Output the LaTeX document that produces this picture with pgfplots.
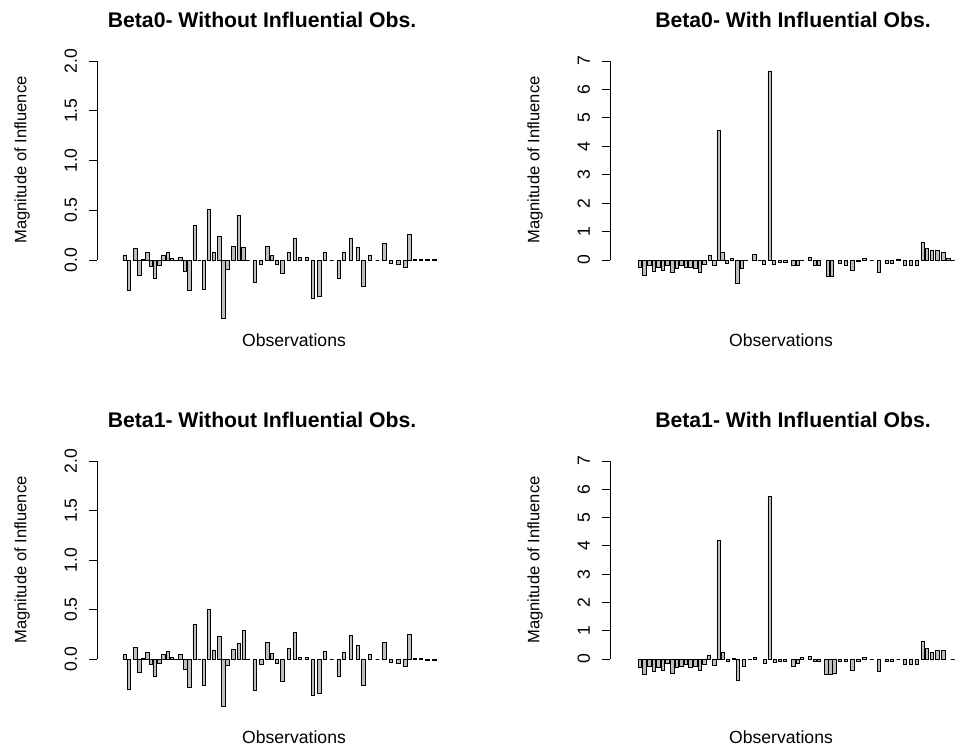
\documentclass[border=0pt]{standalone}
\usepackage{fontspec}
\setmainfont{Liberation Sans}
\usepackage{pgfplots}
\usepackage{pgfplotstable}
\pgfplotsset{compat=1.18}
\definecolor{barfill}{HTML}{BEBEBE}

% Influence of each observation: bar position along the axis, value
\pgfplotstableread{
pos v
27.7 0.05
31.7 -0.31
38.3 0.12
42.3 -0.15
46.3 0.01
50.3 0.08
54.0 -0.06
57.7 -0.18
62.3 -0.05
66.3 0.05
71.0 0.08
75.0 0.02
79.0 0.00
83.3 0.03
88.0 -0.11
92.3 -0.31
97.7 0.35
102.3 0.00
107.0 -0.30
111.7 0.51
117.0 0.08
122.3 0.24
126.3 -0.59
130.3 -0.09
136.3 0.14
141.7 0.45
146.3 0.13
150.7 0.00
157.7 -0.22
164.0 -0.04
170.3 0.14
175.0 0.05
180.0 -0.04
185.5 -0.13
192.0 0.08
197.7 0.22
203.0 0.03
210.0 0.03
215.7 -0.39
222.3 -0.37
227.7 0.08
234.7 0.00
241.7 -0.18
247.0 0.08
254.0 0.22
261.0 0.13
266.3 -0.27
273.0 0.05
280.3 0.00
287.3 0.17
294.0 -0.03
301.3 -0.04
308.3 -0.07
312.3 0.26
317.7 0.01
324.0 0.01
330.3 0.01
337.3 0.01
}\betaZeroWithout

\pgfplotstableread{
pos v
27.7 0.05
31.7 -0.31
38.3 0.12
42.3 -0.14
46.3 0.01
50.3 0.07
54.0 -0.05
57.7 -0.18
62.3 -0.04
66.3 0.05
71.0 0.08
75.0 0.02
79.0 0.00
83.3 0.05
88.3 -0.10
92.3 -0.29
97.7 0.35
102.3 0.00
107.0 -0.27
111.7 0.50
117.0 0.09
122.3 0.23
126.3 -0.48
130.3 -0.06
136.3 0.10
141.7 0.16
147.0 0.29
151.0 0.00
157.7 -0.32
164.3 -0.05
170.3 0.17
175.0 0.06
180.0 -0.04
185.5 -0.23
192.0 0.11
197.7 0.27
203.0 0.02
210.0 0.02
215.7 -0.37
222.3 -0.35
227.7 0.08
234.7 0.00
241.7 -0.18
247.0 0.07
254.0 0.24
261.0 0.14
266.3 -0.27
273.0 0.05
280.3 0.00
287.3 0.17
294.0 -0.03
301.3 -0.04
308.3 -0.07
312.3 0.25
317.7 0.01
324.0 0.01
330.3 -0.01
337.3 -0.01
}\betaOneWithout

\pgfplotstableread{
pos v
30.0 -0.25
34.6 -0.55
39.2 -0.20
43.8 -0.40
48.4 -0.25
53.0 -0.35
57.6 -0.20
62.2 -0.45
66.8 -0.30
71.4 -0.20
76.0 -0.25
80.6 -0.25
85.2 -0.30
89.8 -0.45
94.4 -0.15
100.0 0.15
104.3 -0.18
108.7 4.55
112.3 0.27
117.0 -0.12
122.0 0.05
127.3 -0.82
132.0 -0.29
135.3 -0.03
144.3 0.20
149.7 0.00
154.0 -0.15
159.7 6.65
164.0 -0.15
170.0 -0.08
175.3 -0.08
183.3 -0.18
187.7 -0.18
191.7 -0.02
200.0 0.10
205.0 -0.18
209.0 -0.18
218.0 -0.58
222.0 -0.58
230.0 -0.12
235.7 -0.18
242.3 -0.38
248.3 -0.05
254.3 0.05
261.7 0.00
269.0 -0.45
276.7 -0.12
281.7 -0.12
288.3 0.02
295.0 -0.20
300.7 -0.20
306.7 -0.20
312.7 0.61
316.7 0.41
321.7 0.33
327.3 0.33
333.3 0.26
338.3 0.05
342.7 0.00
}\betaZeroWith

\pgfplotstableread{
pos v
30.0 -0.30
34.6 -0.55
39.2 -0.25
43.8 -0.45
48.4 -0.30
53.0 -0.40
57.6 -0.15
62.2 -0.50
66.8 -0.30
71.4 -0.25
76.0 -0.20
80.6 -0.30
85.2 -0.25
89.8 -0.40
94.4 -0.20
98.7 0.12
104.3 -0.22
108.7 4.20
113.0 0.25
118.0 -0.10
124.0 0.02
128.0 -0.74
134.0 -0.25
140.0 0.00
145.0 0.05
155.0 -0.15
159.7 5.75
165.0 -0.12
170.0 -0.10
175.0 -0.10
183.3 -0.25
187.7 -0.15
192.0 0.05
200.0 0.08
205.0 -0.10
209.0 -0.10
216.5 -0.55
220.5 -0.55
224.5 -0.50
230.0 -0.10
236.0 -0.10
242.3 -0.40
248.3 -0.10
254.3 0.05
261.7 0.00
269.0 -0.45
276.7 -0.10
281.7 -0.10
288.3 0.00
295.0 -0.20
300.7 -0.20
306.7 -0.20
312.7 0.64
316.7 0.37
321.7 0.22
327.3 0.30
333.3 0.30
342.7 0.00
}\betaOneWith

\pgfplotsset{
  infl/.style={
    scale only axis,
    width=268.5pt,
    xmin=0, xmax=358,
    axis x line=none,
    axis y line*=left,
    y axis line style={draw=none},
    tick align=outside,
    major tick length=6pt,
    ytick style={black, line width=0.6pt},
    yticklabel shift=5.5pt,
    yticklabel style={rotate=90, anchor=south, font=\fontsize{13.2}{15}\selectfont},
    /pgf/number format/assume math mode=true,
    clip=false,
    ybar, bar width=3.6,
  },
  lowscale/.style={
    ymin=-0.7, ymax=2,
    ytick={0,0.5,...,2},
    yticklabel style={/pgf/number format/.cd, fixed, fixed zerofill, precision=1},
  },
  highscale/.style={
    ymin=-2.5, ymax=7,
    ytick={0,1,...,7},
  },
  bars/.style={fill=barfill, draw=black, line width=0.6pt},
}

\begin{document}
\begin{tikzpicture}
\path[use as bounding box] (0,0) rectangle (735pt,-563.25pt);

% Beta0, without influential observations
\begin{axis}[infl, lowscale, at={(72.75pt,-247.24pt)}, anchor=south west, height=201.49pt]
  \addplot[bars] table[x=pos, y=v] {\betaZeroWithout};
  \draw[line width=0.6pt] (axis cs:0,0) -- (axis cs:0,2);
\end{axis}

% Beta0, with influential observations
\begin{axis}[infl, highscale, at={(457.5pt,-248.30pt)}, anchor=south west, height=202.55pt]
  \addplot[bars] table[x=pos, y=v] {\betaZeroWith};
  \draw[line width=0.6pt] (axis cs:0,0) -- (axis cs:0,7);
\end{axis}

% Beta1, without influential observations
\begin{axis}[infl, lowscale, at={(72.75pt,-546.23pt)}, anchor=south west, height=200.48pt]
  \addplot[bars] table[x=pos, y=v] {\betaOneWithout};
  \draw[line width=0.6pt] (axis cs:0,0) -- (axis cs:0,2);
\end{axis}

% Beta1, with influential observations
\begin{axis}[infl, highscale, at={(457.5pt,-547.28pt)}, anchor=south west, height=201.53pt]
  \addplot[bars] table[x=pos, y=v] {\betaOneWith};
  \draw[line width=0.6pt] (axis cs:0,0) -- (axis cs:0,7);
\end{axis}

% titles and axis labels
\begin{scope}[every node/.style={inner sep=0pt}]
\node[font=\bfseries\fontsize{15.9}{18}\selectfont] at (196.5pt,-15pt) {Beta0- Without Influential Obs.};
\node[font=\bfseries\fontsize{15.9}{18}\selectfont] at (594.75pt,-15pt) {Beta0- With Influential Obs.};
\node[font=\bfseries\fontsize{15.9}{18}\selectfont] at (196.5pt,-315pt) {Beta1- Without Influential Obs.};
\node[font=\bfseries\fontsize{15.9}{18}\selectfont] at (594.75pt,-315pt) {Beta1- With Influential Obs.};
\node[font=\fontsize{13.2}{15}\selectfont] at (220.5pt,-255pt) {Observations};
\node[font=\fontsize{13.2}{15}\selectfont] at (585.75pt,-255pt) {Observations};
\node[font=\fontsize{13.2}{15}\selectfont] at (220.5pt,-552.75pt) {Observations};
\node[font=\fontsize{13.2}{15}\selectfont] at (585.75pt,-552.75pt) {Observations};
\node[rotate=90, font=\fontsize{12.4}{14}\selectfont] at (16.5pt,-120pt) {Magnitude of Influence};
\node[rotate=90, font=\fontsize{12.4}{14}\selectfont] at (401.25pt,-120pt) {Magnitude of Influence};
\node[rotate=90, font=\fontsize{12.4}{14}\selectfont] at (16.5pt,-420pt) {Magnitude of Influence};
\node[rotate=90, font=\fontsize{12.4}{14}\selectfont] at (401.25pt,-420pt) {Magnitude of Influence};
\end{scope}
\end{tikzpicture}
\end{document}
